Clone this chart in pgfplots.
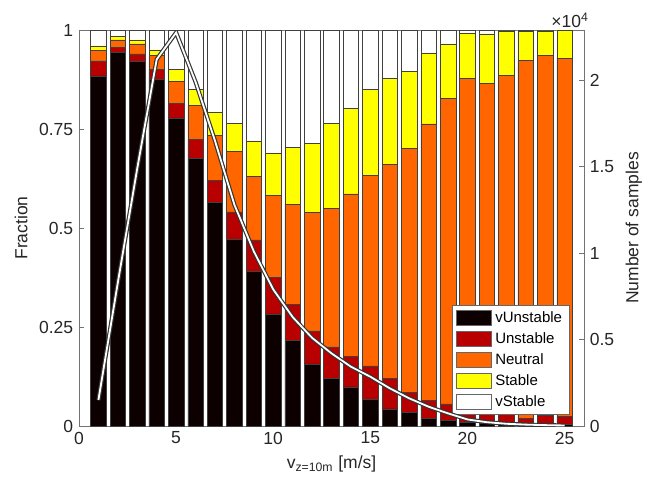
\documentclass[border=0pt]{standalone}
\usepackage{pgfplots}
\pgfplotsset{compat=1.18}
\usepackage{pgfplotstable}
\usepackage{fontspec}
\setmainfont{Liberation Sans}

\definecolor{cVU}{RGB}{12,0,0}
\definecolor{cU}{RGB}{185,0,0}
\definecolor{cN}{RGB}{255,102,0}
\definecolor{cS}{RGB}{255,255,0}
\definecolor{axgray}{RGB}{38,38,38}

% fraction of each stability class per wind speed bin
\pgfplotstableread{
x  vu    u     n     s     vs
1  0.884 0.038 0.027 0.011 0.040
2  0.943 0.013 0.019 0.008 0.017
3  0.920 0.020 0.025 0.010 0.025
4  0.876 0.024 0.035 0.015 0.050
5  0.778 0.037 0.055 0.030 0.100
6  0.676 0.048 0.086 0.041 0.149
7  0.564 0.057 0.112 0.059 0.208
8  0.471 0.070 0.153 0.070 0.236
9  0.391 0.079 0.161 0.089 0.280
10 0.283 0.093 0.206 0.108 0.310
11 0.217 0.090 0.253 0.144 0.296
12 0.157 0.083 0.300 0.174 0.286
13 0.120 0.080 0.350 0.214 0.236
14 0.099 0.076 0.411 0.217 0.197
15 0.067 0.085 0.481 0.218 0.149
16 0.043 0.077 0.541 0.216 0.123
17 0.035 0.049 0.617 0.195 0.104
18 0.019 0.045 0.699 0.179 0.058
19 0.015 0.041 0.772 0.137 0.035
20 0.010 0.035 0.832 0.116 0.007
21 0.008 0.028 0.829 0.125 0.010
22 0.006 0.024 0.856 0.112 0.002
23 0.005 0.015 0.903 0.073 0.004
24 0.005 0.022 0.908 0.063 0.002
25 0.004 0.020 0.905 0.070 0.001
}\fractions

% number of samples per bin
\pgfplotstableread{
x  N
1  1500
2  8300
3  14900
4  21200
5  22750
6  19900
7  16500
8  12800
9  10100
10 7900
11 6300
12 5100
13 4200
14 3430
15 2850
16 2180
17 1600
18 1115
19 730
20 380
21 220
22 130
23 80
24 50
25 30
}\samples

\begin{document}
\begin{tikzpicture}
\pgfplotsset{
  every axis/.append style={
    scale only axis, width=303pt, height=237.6pt,
    xmin=0, xmax=26,
    tick align=inside, major tick length=3pt,
    axis line style={black!55},
    tick style={black!55},
    tick label style={font=\fontsize{10.5}{12}\selectfont, text=axgray},
    label style={font=\fontsize{10.5}{12}\selectfont, text=axgray},
    /pgf/number format/assume math mode=true,
  },
  patch/.style={legend image code/.code={\draw[##1, draw=black!60] (0pt,-4.5pt) rectangle (21pt,4.5pt);}},
}
\begin{axis}[
  ybar stacked, bar width=0.8,
  ymin=0, ymax=1,
  xtick={0,5,...,25}, ytick={0,0.25,0.5,0.75,1},
  yticklabels={0,0.25,0.5,0.75,1},
  xtick pos=left, ytick pos=left,
  xlabel={v\textsubscript{z=10m} [m/s]}, ylabel={Fraction},
  legend style={at={(0.972,0.028)}, anchor=south east, draw=black!60,
    font=\fontsize{9}{10}\selectfont, cells={anchor=west}, row sep=0.6pt,
    inner xsep=2.5pt, inner ysep=1.5pt},
]
\addplot[fill=cVU, draw=black!75, line width=0.3pt, patch] table[x=x,y=vu]{\fractions};
\addplot[fill=cU, draw=black!75, line width=0.3pt, patch] table[x=x,y=u]{\fractions};
\addplot[fill=cN, draw=black!75, line width=0.3pt, patch] table[x=x,y=n]{\fractions};
\addplot[fill=cS, draw=black!75, line width=0.3pt, patch] table[x=x,y=s]{\fractions};
\addplot[fill=white, draw=black!75, line width=0.3pt, patch] table[x=x,y=vs]{\fractions};
\legend{vUnstable,Unstable,Neutral,Stable,vStable}
\end{axis}
\begin{axis}[
  name=ax2,
  axis y line*=right, axis x line=none,
  ymin=0, ymax=22900, scaled y ticks=false,
  ytick={0,5000,10000,15000,20000}, yticklabels={0,0.5,1,1.5,2},
  ylabel={Number of samples},
]
\addplot[draw=black!80, line width=0.7pt, double=white, double distance=1.1pt] table[x=x,y=N]{\samples};
\end{axis}
\node[anchor=south east, inner sep=1pt, xshift=4pt, font=\fontsize{10.5}{12}\selectfont, text=axgray] at (ax2.north east) {×10\textsuperscript{4}};
\pgfresetboundingbox
\path[use as bounding box] (-47.4pt,-34.2pt) rectangle (343.2pt,255.6pt);
\end{tikzpicture}
\end{document}
